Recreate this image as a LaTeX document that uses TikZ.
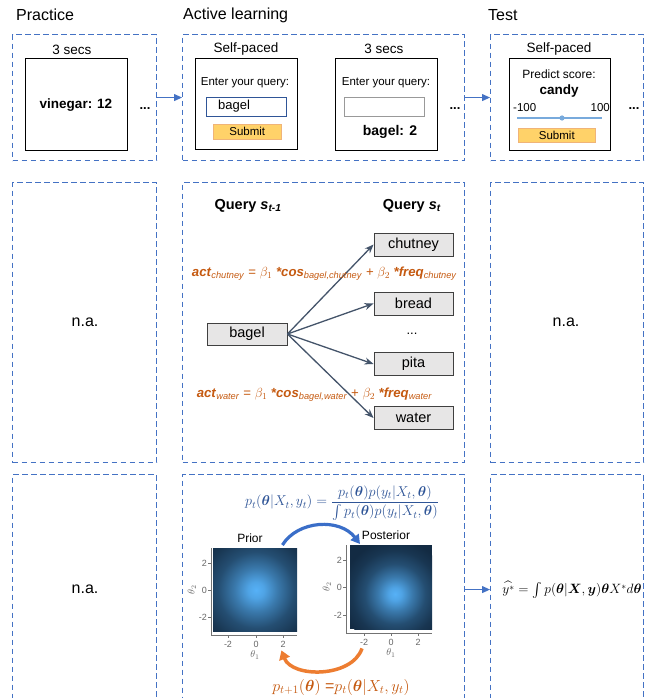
\documentclass[tikz,border=0pt]{standalone}
\usepackage{fix-cm}
\usepackage{amsmath,bm}
\usepackage{fontspec}
\setmainfont{Liberation Sans}
\usetikzlibrary{arrows.meta}
\definecolor{dashblue}{RGB}{68,114,196}
\definecolor{slate}{RGB}{68,84,106}
\definecolor{nodegray}{RGB}{231,230,230}
\definecolor{orng}{RGB}{197,90,17}
\definecolor{orarc}{RGB}{237,125,49}
\definecolor{fblue}{RGB}{47,85,151}
\definecolor{subfill}{RGB}{255,210,105}
\definecolor{subdraw}{RGB}{240,180,120}
\definecolor{hlow}{RGB}{19,43,67}
\definecolor{hhigh}{RGB}{86,177,247}
\definecolor{slider}{RGB}{120,170,220}
\definecolor{arcblue}{RGB}{58,110,200}
\pgfdeclareradialshading{gauss}{\pgfpoint{0bp}{0bp}}{color(0bp)=(hhigh); color(3bp)=(hhigh!90!hlow); color(8bp)=(hhigh!58!hlow); color(14bp)=(hhigh!26!hlow); color(20bp)=(hhigh!8!hlow); color(25bp)=(hlow); color(50bp)=(hlow)}
\newcommand\fsz[1]{\fontsize{#1}{#1}\selectfont}
\tikzset{
 colbox/.style={draw=dashblue, line width=1.1pt, dash pattern=on 5.5pt off 3.5pt, inner sep=0pt, anchor=north west},
 screen/.style={draw=black, line width=1.2pt, inner sep=0pt, anchor=north west},
 title/.style={font=\fsz{16}, anchor=west, inner sep=0pt},
 lbl/.style={font=\fsz{13.5}, inner sep=0pt},
 small/.style={font=\fsz{11.5}, inner sep=0pt},
 dots/.style={font=\fsz{13}\bfseries, inner sep=0pt},
 field/.style={line width=1pt, minimum width=80pt, minimum height=19pt, inner sep=0pt, anchor=north west},
 submit/.style={fill=subfill, draw=subdraw, line width=0.6pt, inner sep=0pt, anchor=north west, font=\fsz{11.5}},
 qnode/.style={draw=black!75, fill=nodegray, line width=0.9pt, minimum width=79pt, minimum height=23pt, inner sep=0pt, font=\fsz{14.5}},
 flow/.style={draw=dashblue, line width=1pt, -{Triangle[length=8pt,width=7pt]}},
 fan/.style={draw=slate, line width=1.3pt, -{Stealth[length=9pt,width=7pt]}},
 orf/.style={text=orng, font=\fsz{13.2}, inner sep=0pt},
 plotbg/.style={fill=hlow, inner sep=0pt, anchor=north west},
 axis/.style={draw=black!55, line width=0.8pt},
 tick/.style={font=\fsz{9}, text=black!60, inner sep=0pt},
 big/.style={font=\fsz{16}, inner sep=0pt},
}
\begin{document}
\begin{tikzpicture}[x=1pt,y=-1pt]
\useasboundingbox (0,0) rectangle (652,698);
\clip (0,0) rectangle (652,698);
% titles
\node[title] (tp) at (16,15) {Practice};
\node[title] (ta) at (183,15) {Active learning};
\node[title] (tt) at (488,15) {Test};
% column boxes
\node[colbox, minimum width=144pt, minimum height=126pt] (p1) at (12,34) {};
\node[colbox, minimum width=282pt, minimum height=126pt] (a1) at (182,34) {};
\node[colbox, minimum width=153pt, minimum height=126pt] (t1) at (490,34) {};
\node[colbox, minimum width=144pt, minimum height=280pt] (p2) at (12,182) {};
\node[colbox, minimum width=282pt, minimum height=280pt] (a2) at (182,182) {};
\node[colbox, minimum width=153pt, minimum height=280pt] (t2) at (490,182) {};
\node[colbox, minimum width=144pt, minimum height=240pt] (p3) at (12,474) {};
\node[colbox, minimum width=282pt, minimum height=240pt] (a3) at (182,474) {};
\node[colbox, minimum width=153pt, minimum height=240pt] (t3) at (490,474) {};
% practice screen
\node[lbl] (p1sec) at (72,50) {3 secs};
\node[screen, minimum width=102pt, minimum height=92pt] (p1scr) at (25,58) {};
\node[font=\fsz{13.5}\bfseries, inner sep=0pt] (vin) at (76,105) {vinegar: 12};
\node[dots] (p1dots) at (145,109) {...};
% active screen 1
\node[lbl] (a1sp) at (246,49) {Self-paced};
\node[screen, minimum width=102pt, minimum height=91pt] (a1scr) at (195,58) {};
\node[small] (a1enter) at (245,83) {Enter your query:};
\node[field, draw=fblue] (a1field) at (206,97) {};
\node[font=\fsz{13}, anchor=west, inner sep=0pt] (a1bagel) at (218,106.5) {bagel};
\node[submit, minimum width=68pt, minimum height=15pt] (a1sub) at (213,124) {Submit};
% active screen 2
\node[lbl] (a2sec) at (384,49) {3 secs};
\node[screen, minimum width=102pt, minimum height=92pt] (a2scr) at (335,58) {};
\node[small] (a2enter) at (386,83) {Enter your query:};
\node[field, draw=black!40] (a2field) at (344,97) {};
\node[font=\fsz{14}\bfseries, inner sep=0pt] (a2bagel) at (390,132) {bagel: 2};
\node[dots] (a2dots) at (455,109) {...};
% test screen
\node[lbl] (t1sp) at (559,49) {Self-paced};
\node[screen, minimum width=101pt, minimum height=92pt] (t1scr) at (509,58) {};
\node[font=\fsz{12}, inner sep=0pt] (pred) at (559,74) {Predict score:};
\node[font=\fsz{13.5}\bfseries, inner sep=0pt] (candy) at (559,91) {candy};
\node[small, anchor=west] (lo) at (513,108) {-100};
\node[small, anchor=east] (hi) at (610,108) {100};
\coordinate (sl1) at (517,118);
\coordinate (sl2) at (602,118);
\draw[slider, line width=1.2pt] (sl1) -- (sl2);
\fill[slider] (562,118) circle (2.6pt);
\node[submit, minimum width=77pt, minimum height=14pt] (t1sub) at (518,128) {Submit};
\node[dots] (t1dots) at (634,109) {...};
% flow arrows
\draw[flow] (p1.east) -- (a1.west);
\draw[flow] (a1.east) -- (t1.west);
\draw[flow] ([yshift=5pt]a3.east) -- ([yshift=5pt]t3.west);
% middle row
\node[big] (na1) at (85,322) {n.a.};
\node[big] (na2) at (566,322) {n.a.};
\node[font=\fsz{14.5}\bfseries, inner sep=0pt] (q1) at (248,206) {Query \textit{s}\textsubscript{\textit{t-1}}};
\node[font=\fsz{14.5}\bfseries, inner sep=0pt] (q2) at (412,206) {Query \textit{s}\textsubscript{\textit{t}}};
\node[qnode] (chutney) at (413.5,244.5) {chutney};
\node[qnode] (bread) at (413.5,303.5) {bread};
\node[font=\fsz{13}, inner sep=0pt] (mdots) at (412,334) {...};
\node[qnode] (pita) at (413.5,364) {pita};
\node[qnode] (water) at (413.5,418) {water};
\node[qnode, minimum width=80pt, minimum height=22pt] (bagel) at (247,334) {bagel};
\draw[fan] (bagel.east) -- (chutney.west);
\draw[fan] (bagel.east) -- (bread.west);
\draw[fan] (bagel.east) -- (pita.west);
\draw[fan] (bagel.east) -- (water.west);
\node[orf] (act1) at (324.5,274) {\textbf{\textit{act}}\textsubscript{\textit{chutney}} = $\beta_1$ \textbf{\textit{*cos}}\textsubscript{\textit{bagel,chutney}} + $\beta_2$ \textbf{\textit{*freq}}\textsubscript{\textit{chutney}}};
\node[orf] (act2) at (314.5,395) {\textbf{\textit{act}}\textsubscript{\textit{water}} = $\beta_1$ \textbf{\textit{*cos}}\textsubscript{\textit{bagel,water}} + $\beta_2$ \textbf{\textit{*freq}}\textsubscript{\textit{water}}};
% bottom row
\node[big] (na3) at (85,589) {n.a.};
\node[text=fblue, font=\fsz{14.2}, inner sep=0pt] (bayes) at (342,503) {$\displaystyle p_t(\bm\theta|X_t,y_t)=\frac{p_t(\bm\theta)p(y_t|X_t,\bm\theta)}{\int p_t(\bm\theta)p(y_t|X_t,\bm\theta)}$};
\node[font=\fsz{12}, inner sep=0pt] (priorlbl) at (250,538) {Prior};
\node[font=\fsz{12}, inner sep=0pt] (postlbl) at (386,535) {Posterior};
% prior plot
\node[plotbg, minimum width=84pt, minimum height=83pt] (prior) at (213,548) {};
\begin{scope}
\clip (213,548) rectangle (297,631);
\shade[shading=gauss] (256,590) circle (68pt);
\end{scope}
\draw[axis] (211,548) -- (211,635) -- (297,635);
\foreach \yy/\tl in {563/2,590/0,617/-2}{
  \draw[axis] (208,\yy) -- (211,\yy);
  \node[tick, anchor=east] at (207,\yy) {\tl};}
\foreach \xx/\tl in {228/-2,256/0,283/2}{
  \draw[axis] (\xx,635) -- (\xx,638);
  \node[tick] at (\xx,644) {\tl};}
\node[tick, font=\fsz{10}] (pth1) at (255,655) {$\theta_1$};
\node[tick, font=\fsz{10}, rotate=90] (pth2) at (192,590) {$\theta_2$};
% posterior plot
\node[plotbg, minimum width=82pt, minimum height=84pt] (post) at (350,545) {};
\begin{scope}
\clip (350,545) rectangle (432,629);
\shade[shading=gauss] (395,594) circle (54pt);
\end{scope}
\draw[axis] (346,545) -- (346,633) -- (432,633);
\foreach \yy/\tl in {560/2,587/0,615/-2}{
  \draw[axis] (343,\yy) -- (346,\yy);
  \node[tick, anchor=east] at (342,\yy) {\tl};}
\foreach \xx/\tl in {364/-2,391/0,418/2}{
  \draw[axis] (\xx,633) -- (\xx,636);
  \node[tick] at (\xx,642) {\tl};}
\node[tick, font=\fsz{10}] (qth1) at (391,653) {$\theta_1$};
\node[tick, font=\fsz{10}, rotate=90] (qth2) at (327,587) {$\theta_2$};
% arcs
\draw[arcblue, line width=3.2pt, -{Triangle[length=9pt,width=10pt]}] ([xshift=-15pt,yshift=3pt]prior.north east) .. controls (298,520) and (340,518) .. ([xshift=10pt,yshift=1pt]post.north west);
\draw[orarc, line width=3.5pt, -{Triangle[length=9pt,width=11pt]}] ([xshift=12pt,yshift=-19pt]post.south west) .. controls (352,678) and (292,678) .. ([xshift=-16pt,yshift=-19pt]prior.south east);
\node[text=orng, font=\fsz{16}, inner sep=0pt] (upd) at (341,687) {$p_{t+1}(\bm\theta)$ =$p_t(\bm\theta|X_t,y_t)$};
\node[font=\fsz{13.5}, inner sep=0pt] (pred2) at (572,590) {$\widehat{y^*}=\int p(\bm\theta|\bm X,\bm y)\bm\theta X^* d\bm\theta$};
\end{tikzpicture}
\end{document}
